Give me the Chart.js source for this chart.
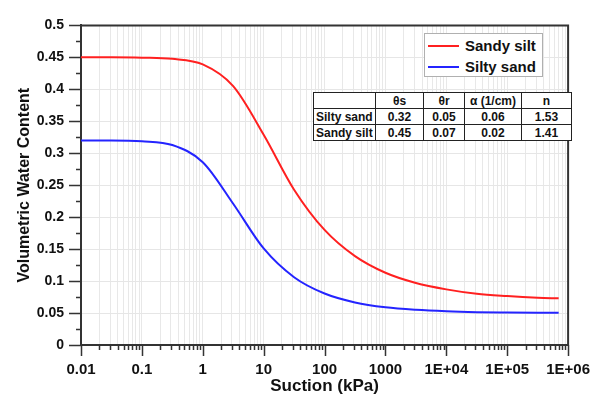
<!DOCTYPE html>
<html><head><meta charset="utf-8">
<script src="https://cdn.jsdelivr.net/npm/chart.js@4.4.1/dist/chart.umd.min.js"></script>
<style>
html,body{margin:0;padding:0;background:#fff;}
#wrap{position:relative;width:606px;height:395px;overflow:hidden;font-family:"Liberation Sans",Arial,sans-serif;color:#111;}
#c{position:absolute;left:0;top:0;}
#legend{position:absolute;left:424px;top:33px;width:119px;height:44px;border:1px solid #b0b0b0;background:#fff;box-sizing:border-box;}
.li{position:absolute;left:0;height:18px;font-weight:bold;font-size:15px;line-height:18px;}
.sw{position:absolute;left:3px;top:8px;width:31px;height:2px;}
.tx{position:absolute;left:40px;top:0;white-space:nowrap;}
#tbl{position:absolute;left:313px;top:92px;border-collapse:collapse;table-layout:fixed;width:258px;font-size:12px;font-weight:bold;background:#fff;}
#tbl td{border:1px solid #222;height:15px;padding:0 2px;text-align:center;line-height:14px;overflow:hidden;white-space:nowrap;}
#tbl td.rl{text-align:left;padding-left:2px;}
</style></head>
<body>
<div id="wrap">
<canvas id="c" width="606" height="395"></canvas>
<div id="legend"></div>
<table id="tbl"></table>
</div>
<script>
// ---- data ----
const suction   = [0.01, 0.0316, 0.1, 0.316, 1, 3.16, 10, 31.6, 100, 316, 1000, 3162, 10000, 31623, 100000, 316228, 700000];
const sandySilt = [0.450, 0.450, 0.4495, 0.4477, 0.439, 0.405, 0.329, 0.243, 0.180, 0.139, 0.113, 0.097, 0.087, 0.080, 0.0765, 0.074, 0.073];
const siltySand = [0.320, 0.320, 0.3187, 0.3128, 0.286, 0.221, 0.151, 0.106, 0.0805, 0.0666, 0.059, 0.055, 0.0527, 0.0514, 0.0508, 0.0504, 0.0503];
const seriesNames = ['Sandy silt', 'Silty sand'];
const seriesColors = ['#ff2020', '#2424ff'];
const xMajorTicks = [0.01, 0.1, 1, 10, 100, 1000, 10000, 100000, 1000000];
const xTickLabels = ['0.01', '0.1', '1', '10', '100', '1000', '1E+04', '1E+05', '1E+06'];
const yTicks = [0, 0.05, 0.1, 0.15, 0.2, 0.25, 0.3, 0.35, 0.4, 0.45, 0.5];
const yTickLabels = ['0', '0.05', '0.1', '0.15', '0.2', '0.25', '0.3', '0.35', '0.4', '0.45', '0.5'];
const tableHeader = ['', 'θs', 'θr', 'α (1/cm)', 'n'];
const tableRows = [
  ['Silty sand', '0.32', '0.05', '0.06', '1.53'],
  ['Sandy silt', '0.45', '0.07', '0.02', '1.41']
];

// ---- legend & table (HTML text) ----
const lg = document.getElementById('legend');
seriesNames.forEach((n, i) => {
  const d = document.createElement('div');
  d.className = 'li';
  d.style.top = (3 + i * 21) + 'px';
  d.style.width = '118px';
  d.innerHTML = '<span class="sw" style="background:' + seriesColors[i] + '"></span><span class="tx">' + n + '</span>';
  lg.appendChild(d);
});
const tb = document.getElementById('tbl');
const colW = [62, 48, 41, 57, 50];
const cg = document.createElement('colgroup');
colW.forEach(w => { const c = document.createElement('col'); c.style.width = w + 'px'; cg.appendChild(c); });
tb.appendChild(cg);
[tableHeader].concat(tableRows).forEach((r, ri) => {
  const tr = document.createElement('tr');
  r.forEach((v, ci) => {
    const td = document.createElement('td');
    td.textContent = v;
    if (ci === 0) td.className = 'rl';
    tr.appendChild(td);
  });
  tb.appendChild(tr);
});

// ---- chart ----
const FONT = "'Liberation Sans', Arial, sans-serif";
const isMajorX = v => Math.abs(Math.log10(v) - Math.round(Math.log10(v))) < 1e-6;

const tickPlugin = {
  id: 'tickMarks',
  afterDraw(chart) {
    const {ctx, chartArea: a, scales: {x, y}} = chart;
    ctx.save();
    ctx.strokeStyle = '#333';
    ctx.lineWidth = 1.5;
    ctx.beginPath();
    x.ticks.forEach(t => {
      const px = Math.round(x.getPixelForValue(t.value)) + 0.5;
      ctx.moveTo(px, a.bottom);
      ctx.lineTo(px, a.bottom + (isMajorX(t.value) ? 11 : 5));
    });
    for (let i = 0; i < yTicks.length; i++) {
      const py = Math.round(y.getPixelForValue(yTicks[i])) + 0.5;
      ctx.moveTo(a.left - 12, py); ctx.lineTo(a.left, py);
      if (i < yTicks.length - 1) {
        const pm = Math.round(y.getPixelForValue((yTicks[i] + yTicks[i + 1]) / 2)) + 0.5;
        ctx.moveTo(a.left - 5, pm); ctx.lineTo(a.left, pm);
      }
    }
    ctx.stroke();
    ctx.strokeStyle = '#333';
    ctx.lineWidth = 2;
    ctx.beginPath();
    ctx.moveTo(a.left, a.top); ctx.lineTo(a.right, a.top); ctx.lineTo(a.right, a.bottom);
    ctx.stroke();
    ctx.restore();
  }
};

const pts = arr => suction.map((s, i) => ({x: s, y: arr[i]}));

new Chart(document.getElementById('c'), {
  type: 'line',
  data: {
    datasets: [
      {label: seriesNames[0], data: pts(sandySilt), borderColor: seriesColors[0], borderWidth: 2, pointRadius: 0, cubicInterpolationMode: 'monotone', fill: false},
      {label: seriesNames[1], data: pts(siltySand), borderColor: seriesColors[1], borderWidth: 2, pointRadius: 0, cubicInterpolationMode: 'monotone', fill: false}
    ]
  },
  options: {
    responsive: false,
    animation: false,
    events: [],
    layout: {padding: {left: 0, top: 15, right: 30, bottom: 0}},
    plugins: {legend: {display: false}, tooltip: {enabled: false}},
    scales: {
      x: {
        type: 'logarithmic',
        min: 0.01, max: 1000000,
        afterBuildTicks: s => {
          const t = [];
          for (let i = 0; i < xMajorTicks.length - 1; i++)
            for (let k = 1; k <= 9; k++) t.push({value: xMajorTicks[i] * k});
          t.push({value: xMajorTicks[xMajorTicks.length - 1]});
          s.ticks = t;
        },
        afterFit: s => { s.height = 50; },
        grid: {color: '#e8e8e8', lineWidth: 1, drawTicks: false},
        border: {color: '#333', width: 2},
        ticks: {
          autoSkip: false, maxRotation: 0, padding: 16, color: '#111',
          font: {family: FONT, size: 15, weight: 'bold'},
          callback: v => {
            const i = xMajorTicks.findIndex(m => Math.abs(Math.log10(m) - Math.log10(v)) < 1e-6);
            return i >= 0 ? xTickLabels[i] : '';
          }
        },
        title: {display: true, text: 'Suction (kPa)', color: '#111', padding: {top: 0, bottom: 0},
          font: {family: FONT, size: 17, weight: 'bold', lineHeight: 1.0}}
      },
      y: {
        min: 0, max: 0.5,
        afterBuildTicks: s => { s.ticks = yTicks.map(v => ({value: v})); },
        afterFit: s => { s.width = 81; },
        grid: {color: '#e6e6e6', lineWidth: 1, drawTicks: false},
        border: {color: '#333', width: 2},
        ticks: {
          padding: 17, color: '#111',
          font: {family: FONT, size: 14, weight: 'bold'},
          callback: (v, i) => yTickLabels[yTicks.findIndex(t => Math.abs(t - v) < 1e-9)]
        },
        title: {display: true, text: 'Volumetric Water Content', color: '#111', padding: {top: 15, bottom: 0},
          font: {family: FONT, size: 16, weight: 'bold'}}
      }
    }
  },
  plugins: [tickPlugin]
});
</script>
</body></html>
